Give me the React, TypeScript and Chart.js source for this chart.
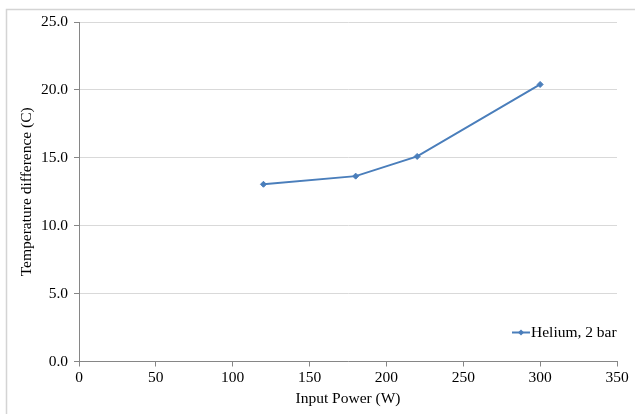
import React, { useEffect, useRef } from "react";
import { Chart, registerables } from "chart.js";

Chart.register(...registerables);

const seriesLabel = "Helium, 2 bar";
const inputPower = [120, 180, 220, 300];
const tempDiff = [13.05, 13.65, 15.1, 20.4];

const LINE_COLOR = "#4a7ebb";
const FONT = "'Liberation Serif', 'Times New Roman', serif";
const FS = 15.5;

const framePlugin = {
  id: "frame",
  beforeDraw(chart: any) {
    const ctx = chart.ctx;
    ctx.save();
    ctx.fillStyle = "#ffffff";
    ctx.fillRect(0, 0, chart.width, chart.height);
    ctx.strokeStyle = "#d4d4d4";
    ctx.lineWidth = 1.5;
    ctx.beginPath();
    ctx.moveTo(6.5, chart.height);
    ctx.lineTo(6.5, 9.5);
    ctx.lineTo(chart.width, 9.5);
    ctx.stroke();
    ctx.restore();
  },
};

const legendPlugin = {
  id: "insideLegend",
  afterDraw(chart: any) {
    const ctx = chart.ctx;
    const ds = chart.data.datasets[0];
    const y = 332.5;
    const x0 = 512;
    const x1 = 530;
    ctx.save();
    ctx.strokeStyle = ds.borderColor;
    ctx.lineWidth = 2;
    ctx.beginPath();
    ctx.moveTo(x0, y);
    ctx.lineTo(x1, y);
    ctx.stroke();
    const cx = (x0 + x1) / 2;
    ctx.fillStyle = ds.borderColor;
    ctx.beginPath();
    ctx.moveTo(cx, y - 3);
    ctx.lineTo(cx + 3, y);
    ctx.lineTo(cx, y + 3);
    ctx.lineTo(cx - 3, y);
    ctx.closePath();
    ctx.fill();
    ctx.fillStyle = "#000000";
    ctx.font = `${FS}px ${FONT}`;
    ctx.textBaseline = "middle";
    ctx.textAlign = "left";
    ctx.fillText(ds.label, x1 + 1, y);
    ctx.restore();
  },
};

export default function App() {
  const ref = useRef<HTMLCanvasElement | null>(null);

  useEffect(() => {
    if (!ref.current) return;
    const chart = new Chart(ref.current, {
      type: "line",
      data: {
        datasets: [
          {
            label: seriesLabel,
            data: inputPower.map((x, i) => ({ x, y: tempDiff[i] })),
            borderColor: LINE_COLOR,
            backgroundColor: LINE_COLOR,
            borderWidth: 2,
            pointStyle: "rectRot",
            pointRadius: 3,
            pointBorderWidth: 1,
            pointBackgroundColor: LINE_COLOR,
            pointBorderColor: LINE_COLOR,
            tension: 0,
          },
        ],
      },
      options: {
        animation: false,
        responsive: false,
        devicePixelRatio: 1,
        layout: { padding: { top: 22, right: 18, left: 0, bottom: 0 } },
        plugins: {
          legend: { display: false },
          tooltip: { enabled: false },
        },
        scales: {
          x: {
            type: "linear",
            min: 0,
            max: 350,
            ticks: {
              stepSize: 50,
              color: "#000000",
              font: { family: FONT, size: FS },
              padding: 2,
              maxRotation: 0,
            },
            grid: {
              drawOnChartArea: false,
              drawTicks: true,
              tickLength: 5,
              tickColor: "#868686",
            },
            border: { color: "#868686", width: 1 },
            title: {
              display: true,
              text: "Input Power (W)",
              color: "#000000",
              font: { family: FONT, size: FS },
              padding: { top: 0, bottom: 5.5 },
            },
            afterFit: (s: any) => {
              s.height = 414 - 361.5;
            },
          },
          y: {
            min: 0,
            max: 25,
            ticks: {
              stepSize: 5,
              color: "#000000",
              font: { family: FONT, size: FS },
              padding: 6,
              callback: (v: any) => Number(v).toFixed(1),
            },
            grid: {
              color: "#d9d9d9",
              lineWidth: 1,
              drawTicks: true,
              tickLength: 5,
              tickColor: "#868686",
            },
            border: { color: "#868686", width: 1 },
            title: {
              display: true,
              text: "Temperature difference (C)",
              color: "#000000",
              font: { family: FONT, size: FS },
              padding: { top: 17.5, bottom: 0 },
            },
            afterFit: (s: any) => {
              s.width = 79;
            },
          },
        },
      },
      plugins: [framePlugin, legendPlugin],
    });
    return () => chart.destroy();
  }, []);

  return (
    <div style={{ position: "fixed", left: 0, top: 0, width: 635, height: 414 }}>
      <canvas ref={ref} width={635} height={414} style={{ display: "block" }} />
    </div>
  );
}
